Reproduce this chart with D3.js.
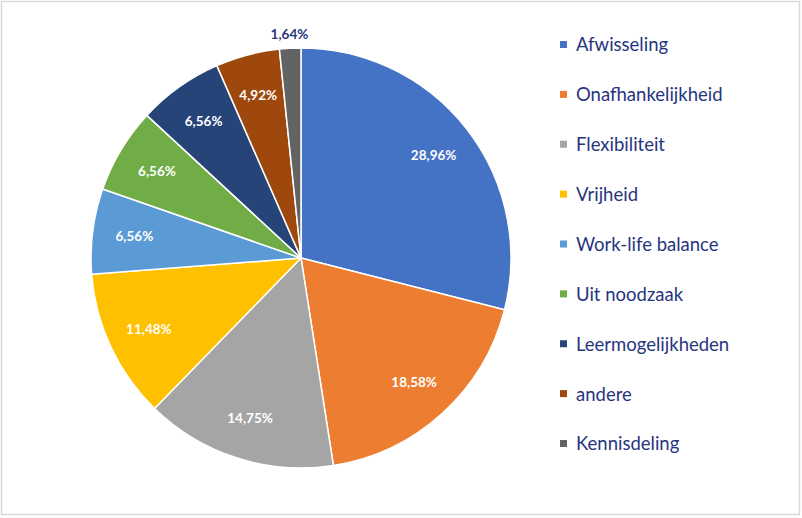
<!DOCTYPE html>
<html><head><meta charset="utf-8">
<script src="https://cdn.jsdelivr.net/npm/d3@7"></script>
<style>body{margin:0;background:#fff}svg{display:block}</style>
</head><body>
<script>
const categories = ["Afwisseling","Onafhankelijkheid","Flexibiliteit","Vrijheid","Work-life balance","Uit noodzaak","Leermogelijkheden","andere","Kennisdeling"];
const values = [28.96,18.58,14.75,11.48,6.56,6.56,6.56,4.92,1.64];
const colors = ["#4472C4","#ED7D31","#A5A5A5","#FFC000","#5B9BD5","#70AD47","#264478","#9E480E","#636363"];
const labelText = values.map(v => v.toFixed(2).replace(".", ",") + "%");

const W = 802, H = 518;
const svg = d3.select("body").append("svg").attr("width", W).attr("height", H);
svg.append("rect").attr("x",1.5).attr("y",1.5).attr("width",W-4).attr("height",H-5)
  .attr("fill","#fff").attr("stroke","#D9D9D9").attr("stroke-width",1.5);

const font = "Lato, 'Gill Sans', 'Open Sans', sans-serif";
const textCol = "#27357E";
const cx = 301, cy = 258, R = 210;
const g = svg.append("g").attr("transform", `translate(${cx},${cy})`);
const pie = d3.pie().sort(null).value(d => d)(values);
const arc = d3.arc().innerRadius(0).outerRadius(R);
g.selectAll("path").data(pie).join("path")
  .attr("d", arc).attr("fill", (d,i) => colors[i])
  .attr("stroke","#fff").attr("stroke-width",1.5);

const inArc = d3.arc().innerRadius(R*0.8).outerRadius(R*0.8);
const outArc = d3.arc().innerRadius(R*1.065).outerRadius(R*1.065);
g.selectAll("text.lbl").data(pie).join("text").attr("class","lbl")
  .attr("transform", (d,i) => `translate(${(i===8?outArc:inArc).centroid(d)})`)
  .attr("text-anchor","middle").attr("dy","0.35em")
  .attr("font-family", font).attr("font-weight","bold").attr("font-size",13.5)
  .attr("fill", (d,i) => i===8 ? textCol : "#fff")
  .text((d,i) => labelText[i]);

const y = d3.scalePoint().domain(categories).range([45, 444]);
const lg = svg.append("g");
const item = lg.selectAll("g").data(categories).join("g")
  .attr("transform", d => `translate(560,${y(d)})`);
item.append("rect").attr("x",0).attr("y",-4).attr("width",7).attr("height",7)
  .attr("fill", (d,i) => colors[i]);
item.append("text").attr("x",16).attr("dy","0.35em")
  .attr("font-family", font).attr("font-size",18.5).attr("fill", textCol)
  .text(d => d);
</script>
</body></html>
